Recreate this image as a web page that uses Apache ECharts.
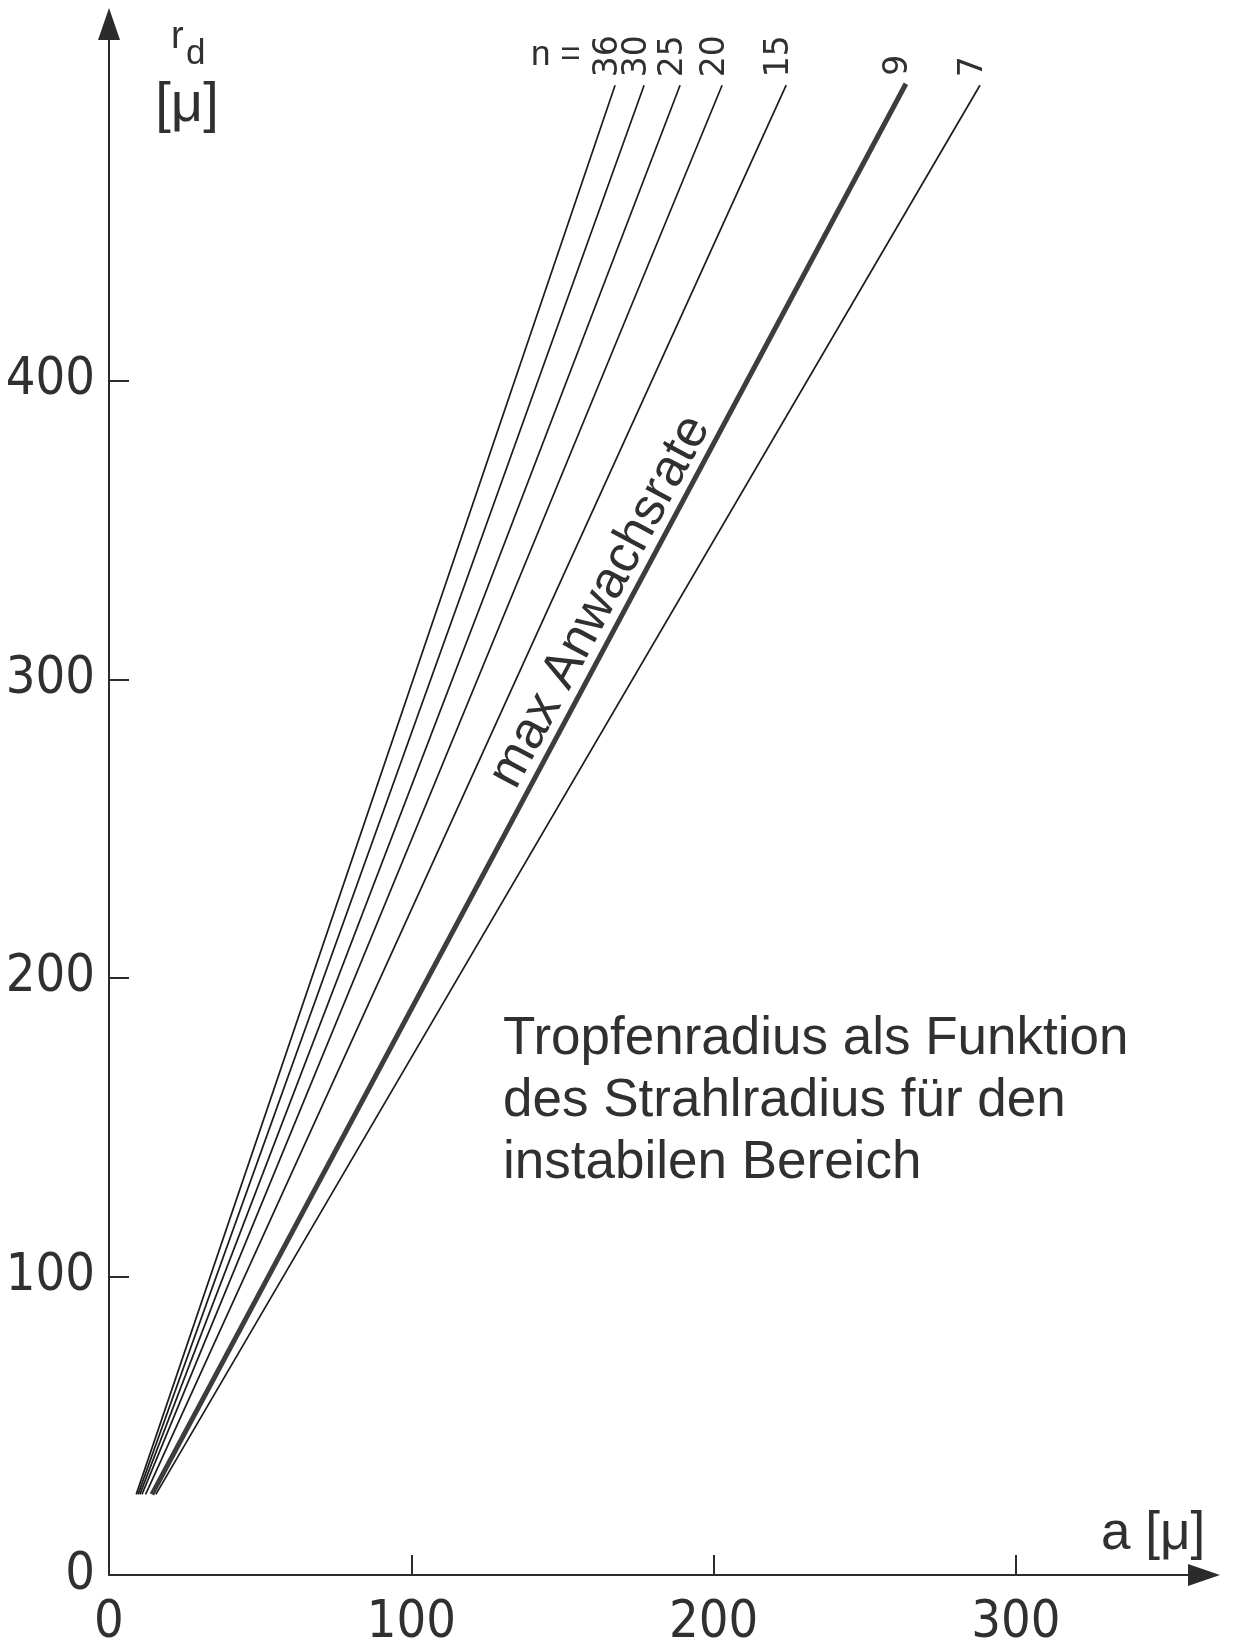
<!DOCTYPE html>
<html>
<head>
<meta charset="utf-8">
<title>Tropfenradius als Funktion des Strahlradius</title>
<script src="https://cdn.jsdelivr.net/npm/echarts@6/dist/echarts.min.js"></script>
<style>
  html, body { margin: 0; padding: 0; background: #ffffff; }
  #chart { width: 1234px; height: 1649px; }
</style>
</head>
<body>
<div id="chart"></div>
<script>
// Wellenzahl-Parameter n der einzelnen Geraden
const nLabels = ['36', '30', '25', '20', '15', '9', '7'];
// Anfangspunkte (Strahlradius a, Tropfenradius r_d) in µ
const aStart  = [9.0, 9.6, 10.2, 10.9, 12.1, 14.2, 15.5];
const rdStart = [27, 27, 27, 27, 27, 27, 27];
// Endpunkte (Strahlradius a, Tropfenradius r_d) in µ
const aEnd    = [167.4, 177.0, 188.9, 202.8, 224.0, 263.6, 288.1];
const rdEnd   = [499, 499, 499, 499, 499, 499.5, 499];
// Kurve der maximalen Anwachsrate
const maxRateLabel = '9';

// Achsenbeschriftung
const xTickLabels = [0, 100, 200, 300];
const yTickLabels = [0, 100, 200, 300, 400];
const xTickMarks = [100, 200, 300];
const yTickMarks = [100, 200, 300, 400];

const noteLines = [
  'Tropfenradius als Funktion',
  'des Strahlradius für den',
  'instabilen Bereich'
];

const INK = '#2b2b2b';
const TEXT = '#303030';
const NARROW = "'Liberation Sans Narrow', 'DejaVu Sans Condensed', 'Liberation Sans', sans-serif";
const SANS = "'Liberation Sans', Arial, sans-serif";
const DV = "'DejaVu Sans', sans-serif";

const chart = echarts.init(document.getElementById('chart'), null, { renderer: 'canvas' });

const series = nLabels.map((n, i) => {
  const bold = n === maxRateLabel;
  return {
    type: 'line',
    name: 'n = ' + n,
    data: [[aStart[i], rdStart[i]], [aEnd[i], rdEnd[i]]],
    showSymbol: false,
    silent: true,
    z: bold ? 3 : 2,
    lineStyle: { color: bold ? '#3d3d3d' : '#1c1c1c', width: bold ? 5 : 1.7 }
  };
});

const axisCommon = {
  type: 'value',
  min: 0,
  interval: 100,
  splitLine: { show: false },
  axisLine: {
    show: true,
    symbol: ['none', 'triangle'],
    symbolSize: [22, 32],
    lineStyle: { color: INK, width: 2 }
  }
};

chart.setOption({
  backgroundColor: '#ffffff',
  animation: false,
  grid: { left: 109, right: 30, top: 24, bottom: 69, containLabel: false },
  xAxis: Object.assign({}, axisCommon, {
    max: 362.2,
    axisTick: { show: true, inside: true, length: 20, customValues: xTickMarks, lineStyle: { color: INK, width: 2 } },
    axisLabel: { customValues: xTickLabels, fontSize: 52, fontFamily: NARROW, color: TEXT, margin: 22 }
  }),
  yAxis: Object.assign({}, axisCommon, {
    max: 519.5,
    axisTick: { show: true, inside: true, length: 20, customValues: yTickMarks, lineStyle: { color: INK, width: 2 } },
    axisLabel: { customValues: yTickLabels, fontSize: 52, fontFamily: NARROW, color: TEXT, margin: 14 }
  }),
  series: series
});

// Beschriftungen, die sich an den Geraden orientieren
const graphics = [];

nLabels.forEach((n, i) => {
  const p = chart.convertToPixel({ gridIndex: 0 }, [aEnd[i], rdEnd[i]]);
  graphics.push({
    type: 'text',
    x: p[0] - 7,
    y: p[1] - 8,
    rotation: Math.PI / 2,
    silent: true,
    style: { text: n, font: '33px ' + DV, fill: TEXT, align: 'left', verticalAlign: 'middle' }
  });
});

const p0 = chart.convertToPixel({ gridIndex: 0 }, [aEnd[0], rdEnd[0]]);
graphics.push({
  type: 'text',
  x: p0[0] - 84,
  y: p0[1] - 30,
  silent: true,
  style: { text: 'n =', font: '35px ' + SANS, fill: TEXT, align: 'left', verticalAlign: 'middle' }
});

// Schrift entlang der Geraden maximaler Anwachsrate
const k = nLabels.indexOf(maxRateLabel);
const q1 = chart.convertToPixel({ gridIndex: 0 }, [aStart[k], rdStart[k]]);
const q2 = chart.convertToPixel({ gridIndex: 0 }, [aEnd[k], rdEnd[k]]);
const angle = Math.atan2(q1[1] - q2[1], q2[0] - q1[0]);
const mid = chart.convertToPixel({ gridIndex: 0 }, [162.5, 326]);
graphics.push({
  type: 'text',
  x: mid[0],
  y: mid[1],
  rotation: angle,
  silent: true,
  style: { text: 'max Anwachsrate', font: '52px ' + SANS, fill: TEXT, align: 'center', verticalAlign: 'middle' }
});

// Achsennamen
graphics.push(
  { type: 'text', x: 171, y: 38, silent: true,
    style: { text: 'r', font: '38px ' + SANS, fill: TEXT, align: 'left', verticalAlign: 'middle' } },
  { type: 'text', x: 186, y: 54, silent: true,
    style: { text: 'd', font: '35px ' + SANS, fill: TEXT, align: 'left', verticalAlign: 'middle' } },
  { type: 'text', x: 187, y: 106, silent: true,
    style: { text: '[μ]', font: '56px ' + SANS, fill: TEXT, align: 'center', verticalAlign: 'middle' } },
  { type: 'text', x: 1101, y: 1534, silent: true,
    style: { text: 'a [μ]', font: '53px ' + SANS, fill: TEXT, align: 'left', verticalAlign: 'middle' } }
);

// Erläuterung
graphics.push({
  type: 'text',
  x: 503,
  y: 1101,
  silent: true,
  style: { text: noteLines.join('\n'), font: '53px ' + SANS, lineHeight: 62, fill: TEXT, align: 'left', verticalAlign: 'middle' }
});

chart.setOption({ graphic: { elements: graphics } });
</script>
</body>
</html>
